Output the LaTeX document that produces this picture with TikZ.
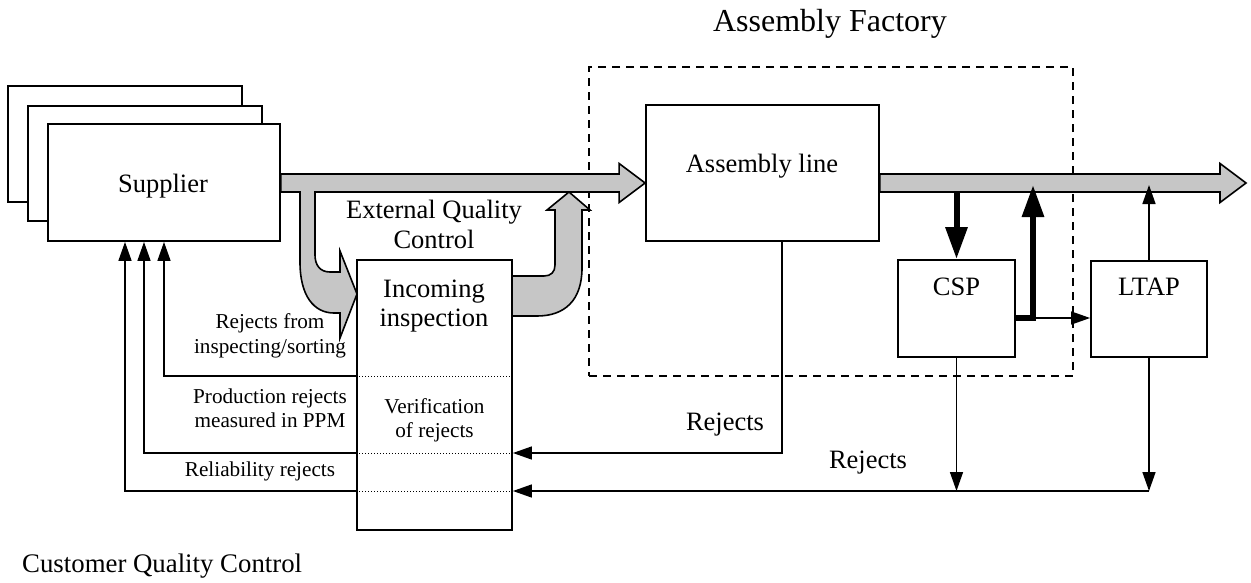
\documentclass[tikz,border=0pt]{standalone}
\usepackage{fontspec}
\setmainfont{Liberation Serif}
\usetikzlibrary{arrows.meta,calc}
\begin{document}
\begin{tikzpicture}[x=1pt,y=-1pt,
  box/.style={draw,line width=1.8pt,fill=white,inner sep=0pt},
  txt/.style={font=\fontsize{26.5}{30}\selectfont,anchor=base,inner sep=0pt},
  small/.style={font=\fontsize{21.2}{24}\selectfont,anchor=base,inner sep=0pt},
  big/.style={font=\fontsize{32}{36}\selectfont,anchor=base,inner sep=0pt},
  tline/.style={line width=1.5pt},
  tarrow/.style={tline,-{Triangle[length=19pt,width=13pt]}},
  fatarrow/.style={line width=6pt,-{Triangle[length=32pt,width=21pt]}},
  flow/.style={fill=gray!45,draw=black,line width=1.6pt,line join=miter},
  sep/.style={line width=1pt,dash pattern=on 1pt off 2pt}]
\useasboundingbox (0,0) rectangle (1251,582);

% factory boundary
\node[draw,line width=1.5pt,dash pattern=on 8pt off 6pt,inner sep=0pt,
      minimum width=484pt,minimum height=309pt] (factory) at (831,221.5) {};
\node[big] (factoryt) at (830,31) {Assembly Factory};

% stacked suppliers
\node[box,minimum width=234pt,minimum height=116pt] (sup3) at (125,144) {};
\node[box,minimum width=234pt,minimum height=115pt] (sup2) at (145,163.5) {};
\node[box,minimum width=232pt,minimum height=117pt] (sup) at (164,182.5) {};
\node[txt] (supt) at (163,192) {Supplier};

% process boxes
\node[box,minimum width=155pt,minimum height=270pt] (in) at (434.5,395) {};
\node[box,minimum width=233pt,minimum height=136pt] (al) at (762.5,173) {};
\node[box,minimum width=117pt,minimum height=97pt] (csp) at (956.5,308.5) {};
\node[box,minimum width=116pt,minimum height=96pt] (ltap) at (1149,309) {};

% separators inside incoming inspection
\draw[sep] (in.west |- 0,376) -- (in.east |- 0,376);
\draw[sep] (in.west |- 0,453) -- (in.east |- 0,453);
\draw[sep] (in.west |- 0,491) -- (in.east |- 0,491);

% material flow: curved branches through incoming inspection
\draw[flow] (300,192) -- (300,262) .. controls (300,296) and (314,313) .. (334,313)
  -- (340,313) -- (340,338) -- (357,294) -- (340,251) -- (340,272) -- (330,272)
  .. controls (320,272) and (315,265) .. (315,255) -- (315,192) -- cycle;
\draw[flow] (512,276) -- (544,276) .. controls (551,276) and (555,272) .. (555,265)
  -- (555,210) -- (547,210) -- (569,192) -- (590,210) -- (582,210) -- (582,268)
  .. controls (582,300) and (565,316) .. (537,316) -- (512,316) -- cycle;

% material flow: main lines
\coordinate (f1a) at (sup.east |- 0,183);
\coordinate (f1b) at (al.west |- 0,183);
\coordinate (f2a) at (al.east |- 0,183);
\coordinate (out) at (1246,183);
\newcommand\flowline[2]{%
  \draw[flow] let \p1=(#1), \p2=(#2) in
    (\x1,\y1+9pt) -- (\x2-26pt,\y1+9pt) -- (\x2-26pt,\y1+19.5pt) -- (\x2,\y1)
    -- (\x2-26pt,\y1-19.5pt) -- (\x2-26pt,\y1-9pt) -- (\x1,\y1-9pt) -- cycle;}
\flowline{f1a}{f1b}
\flowline{f2a}{out}
\fill[gray!45] (301,187) rectangle (314,196);

% sampling at CSP and LTAP
\coordinate (d1) at (csp.north |- 0,193);
\draw[fatarrow] (d1) -- (csp.north);
\coordinate (j2) at (1033,318);
\coordinate (u1) at (1033,185);
\draw[fatarrow,line join=miter] (csp.east |- j2) -| (u1);
\draw[tarrow] (j2) -- (ltap.west |- j2);
\draw[tarrow] (ltap.north) -- (ltap.north |- 0,185);

% rejects returned to incoming inspection
\draw[tarrow] (csp.south) -- (csp.south |- 0,491);
\draw[tarrow] (ltap.south) -- (ltap.south |- 0,491);
\draw[tarrow] (ltap.south |- 0,491) -- (in.east |- 0,491);
\coordinate (alr) at ($(al.south)+(19.5,0)$);
\draw[tarrow] (alr) |- (in.east |- 0,453);

% rejects reported back to the supplier
\draw[tarrow] (in.west |- 0,376) -| (sup.south);
\draw[tarrow] (in.west |- 0,453) -| ($(sup.south)+(-20,0)$);
\draw[tarrow] (in.west |- 0,491) -| ($(sup.south)+(-39,0)$);

% labels
\node[txt] (eq1) at (434,218) {External Quality};
\node[txt] (eq2) at (434,248) {Control};
\node[txt] (in1) at (434,297) {Incoming};
\node[txt] (in2) at (434,326) {inspection};
\node[small] (ver1) at (434.5,413) {Verification};
\node[small] (ver2) at (434.5,437) {of rejects};
\node[txt] (alt) at (762,172) {Assembly line};
\node[txt] (cspt) at (956.5,295) {CSP};
\node[txt] (ltapt) at (1149,295) {LTAP};
\node[txt] (rej1) at (725,430) {Rejects};
\node[txt] (rej2) at (868,468) {Rejects};
\node[small] (r1a) at (270,328) {Rejects from};
\node[small] (r1b) at (270,353) {inspecting/sorting};
\node[small] (r2a) at (270,403) {Production rejects};
\node[small] (r2b) at (270,427) {measured in PPM};
\node[small] (r3) at (260,476) {Reliability rejects};
\node[txt,anchor=base west,font=\fontsize{26.8}{30}\selectfont] (cqc) at (22,572) {Customer Quality Control};
\end{tikzpicture}
\end{document}
